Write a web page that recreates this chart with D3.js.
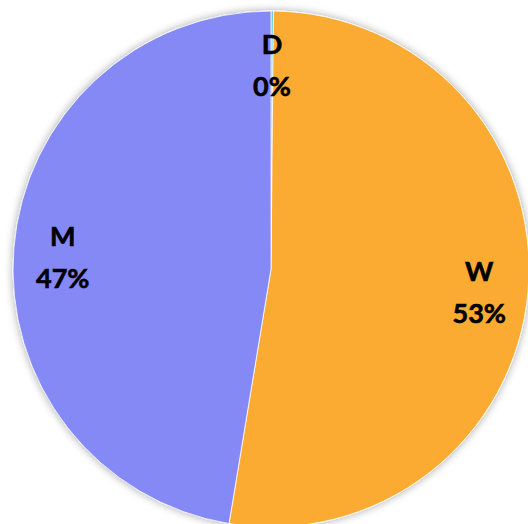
<!DOCTYPE html>
<html>
<head>
<meta charset="utf-8">
<script src="https://cdn.jsdelivr.net/npm/d3@7"></script>
<style>
    html, body { margin: 0; padding: 0; background: #ffffff; }
    #chart { width: 528px; height: 524px; overflow: hidden; }
    text { font-family: Lato, "Open Sans", sans-serif; font-weight: 700; }
</style>
</head>
<body>
<div id="chart"></div>
<script>
// Slice data (clockwise from 12 o'clock)
const categories = ['D', 'W', 'M'];
const values = [0.15, 52.45, 47.4];
const labels = ['0%', '53%', '47%'];
const colors = ['#4fc3cf', '#fbab33', '#8589f6'];

const width = 528;
const height = 524;
const cx = 271;
const cy = 269;
const radius = 258;

const svg = d3.select('#chart')
    .append('svg')
    .attr('width', width)
    .attr('height', height);

// Soft shadow around the pie
const defs = svg.append('defs');
const filter = defs.append('filter')
    .attr('id', 'shadow')
    .attr('x', '-10%').attr('y', '-10%')
    .attr('width', '120%').attr('height', '120%');
filter.append('feGaussianBlur')
    .attr('in', 'SourceAlpha')
    .attr('stdDeviation', 4);
filter.append('feComponentTransfer')
    .append('feFuncA').attr('type', 'linear').attr('slope', 0.35);
const merge = filter.append('feMerge');
merge.append('feMergeNode');
merge.append('feMergeNode').attr('in', 'SourceGraphic');

const data = categories.map((c, i) => ({ name: c, value: values[i], label: labels[i], color: colors[i] }));

const pie = d3.pie()
    .sort(null)
    .value(d => d.value);

const arc = d3.arc()
    .innerRadius(0)
    .outerRadius(radius);

const labelArc = d3.arc()
    .innerRadius(radius * 0.81)
    .outerRadius(radius * 0.81);

const g = svg.append('g')
    .attr('transform', `translate(${cx},${cy})`);

const arcs = pie(data);

g.append('g')
    .attr('filter', 'url(#shadow)')
    .selectAll('path')
    .data(arcs)
    .enter()
    .append('path')
    .attr('d', arc)
    .attr('fill', d => d.data.color)
    .attr('stroke', '#ffffff')
    .attr('stroke-width', 0.8);

// Labels: category name + percentage
const lbl = g.selectAll('.label')
    .data(arcs)
    .enter()
    .append('text')
    .attr('class', 'label')
    .attr('text-anchor', 'middle')
    .attr('font-size', 27)
    .attr('fill', '#000000')
    .attr('stroke', '#000000')
    .attr('stroke-width', 0.6)
    .attr('transform', d => {
        const [x, y] = labelArc.centroid(d);
        return `translate(${x},${y})`;
    });

lbl.append('tspan')
    .attr('x', 0)
    .attr('y', -6)
    .text(d => d.data.name);

lbl.append('tspan')
    .attr('x', 0)
    .attr('y', 36)
    .text(d => d.data.label);
</script>
</body>
</html>
